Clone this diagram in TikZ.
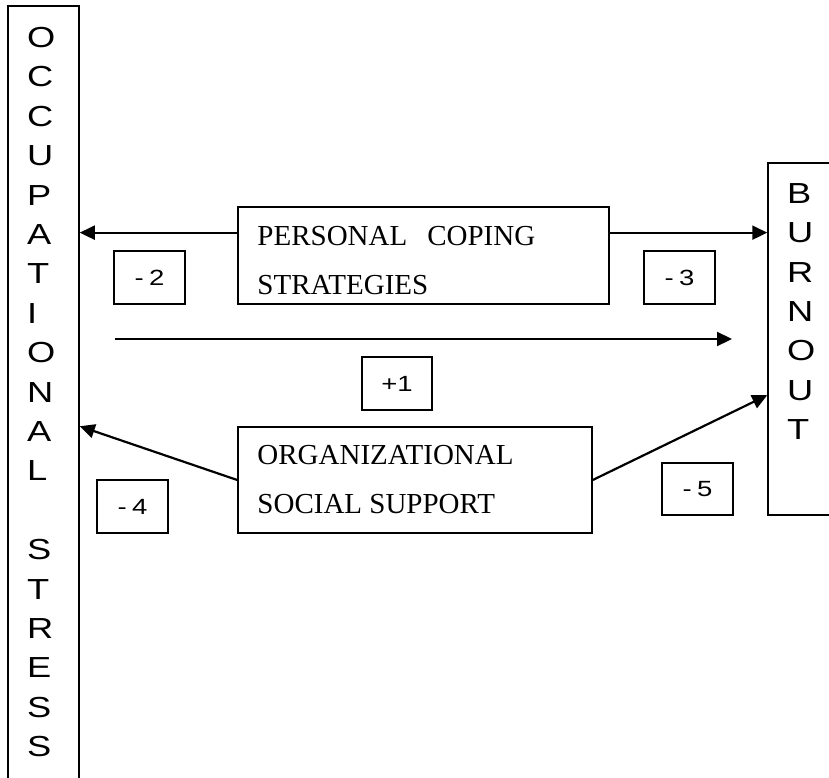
\documentclass[tikz,border=0pt]{standalone}
\usepackage{fontspec}
\setmainfont{Liberation Serif}
\newfontfamily\widesans[FakeStretch=1.25]{Liberation Sans}
\usetikzlibrary{arrows.meta,calc}

\tikzset{
  frame/.style={draw, line width=1.5pt, rectangle, inner sep=0pt},
  bigletter/.style={font=\widesans\fontsize{29}{29}\selectfont, inner sep=0pt, anchor=base west},
  weight/.style={frame, minimum width=71pt, minimum height=53pt,
                 font=\widesans\fontsize{22}{22}\selectfont},
  boxtext/.style={font=\fontsize{29}{29}\selectfont, inner sep=0pt, anchor=base west},
  link/.style={line width=2.2pt, -{Triangle[length=15pt,width=14pt]}}
}

\begin{document}
\begin{tikzpicture}[x=1pt, y=-1pt]
  \useasboundingbox (0,0) rectangle (829,778);
  \clip (0,0) rectangle (829,778);

  % outer variables
  \node[frame, minimum width=71pt, minimum height=784pt] (stress) at (43.5,398) {};
  \node[frame, minimum width=72pt, minimum height=352pt] (burnout) at (804,339) {};

  \foreach \i/\ch in {0/O,1/C,2/C,3/U,4/P,5/A,6/T,7/I,8/O,9/N,10/A,11/L,
                      13/S,14/T,15/R,16/E,17/S,18/S}
    \node[bigletter] (stress-\i) at (27,{47.4+39.4*\i}) {\ch};

  \foreach \i/\ch in {0/B,1/U,2/R,3/N,4/O,5/U,6/T}
    \node[bigletter] (burnout-\i) at (787,{203.3+39.4*\i}) {\ch};

  % moderators
  \node[frame, minimum width=371pt, minimum height=97pt] (coping) at (423.5,255.5) {};
  \node[boxtext] (coping-1) at ([shift={(20,39)}]coping.north west) {PERSONAL\hspace{20pt}COPING};
  \node[boxtext] (coping-2) at ([shift={(20,88)}]coping.north west) {STRATEGIES};

  \node[frame, minimum width=354pt, minimum height=106pt] (org) at (415,480) {};
  \node[boxtext] (org-1) at ([shift={(20,38)}]org.north west) {ORGANIZATIONAL};
  \node[boxtext] (org-2) at ([shift={(20,87)}]org.north west) {SOCIAL SUPPORT};

  % path weights
  \node[weight] (w2) at (149.5,277.5) {-\hspace{0.25em}2};
  \node[weight] (w3) at (679.5,277.5) {-\hspace{0.25em}3};
  \node[weight, minimum width=70pt] (w1) at (397,383.5) {+1};
  \node[weight] (w4) at (132.5,506.5) {-\hspace{0.25em}4};
  \node[weight, minimum height=52pt] (w5) at (697.5,489) {-\hspace{0.25em}5};

  % connectors
  \coordinate (cl) at ($(coping.north west)!0.268!(coping.south west)$);
  \coordinate (cr) at ($(coping.north east)!0.268!(coping.south east)$);
  \coordinate (bo) at ($(burnout.north west)!0.659!(burnout.south west)$);
  \coordinate (directstart) at (115,339);
  \coordinate (directend) at (732,339);

  \draw[link] (cl) -- (stress.east |- cl);
  \draw[link] (cr) -- (burnout.west |- cr);
  \draw[link] (directstart) -- (directend);
  \draw[link] (org.west) -- (stress.east |- org.north);
  \draw[link] (org.east) -- (bo);
\end{tikzpicture}
\end{document}
